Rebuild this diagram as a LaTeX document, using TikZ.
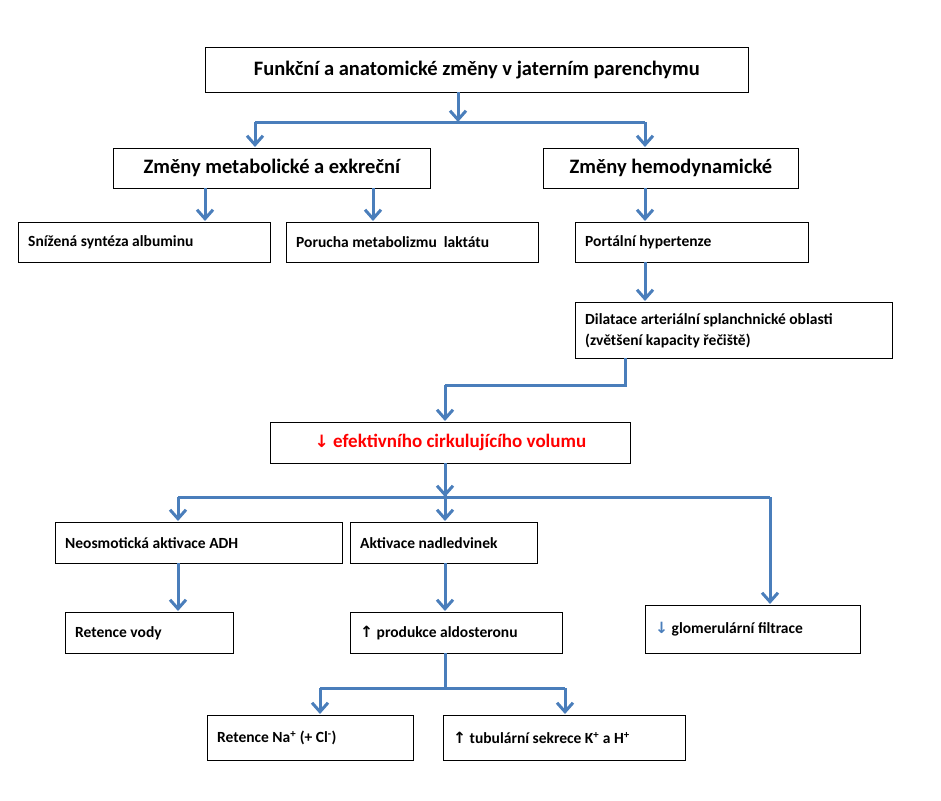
\documentclass[tikz,border=0pt]{standalone}
\usepackage{fontspec}
\setmainfont{Carlito}
\newfontfamily\djv{DejaVu Sans}
\usetikzlibrary{arrows.meta}
\definecolor{ab}{HTML}{4A7EBB}
\newcommand{\sm}{\fontsize{15.5}{19}\selectfont}
\newcommand{\bg}{\fontsize{20.5}{24}\selectfont}
\tikzset{
 bx/.style={draw,thick,anchor=north west,inner sep=0pt},
 ar/.style={draw=ab,line width=3pt,-{Straight Barb[length=9pt,width=16pt,line width=3pt]}},
 ln/.style={draw=ab,line width=3pt},
}
\newcommand{\bxn}[6]{\node[bx,minimum width=#3pt-#1pt,minimum height=#4pt-#2pt] (#5) at (#1,#2) {};
 \node[anchor=west,font=\bfseries\sm,align=left,inner sep=0pt] at ([xshift=10pt]#5.west) {#6};}
\begin{document}
\begin{tikzpicture}[x=1pt,y=-1pt]
\useasboundingbox (0,0) rectangle (941,800);
\node[bx,minimum width=543pt,minimum height=45pt] (top) at (205,47) {};
\node[font=\bfseries\bg] at (top.center) {Funkční a anatomické změny v jaterním parenchymu};
\node[bx,minimum width=317pt,minimum height=40pt] (met) at (113,148) {};
\node[font=\bfseries\bg] at (met.center) {Změny metabolické a exkreční};
\node[bx,minimum width=255pt,minimum height=40pt] (hem) at (543,148) {};
\node[font=\bfseries\bg] at (hem.center) {Změny hemodynamické};
\bxn{18}{222}{270}{262}{alb}{Snížená syntéza albuminu}
\bxn{286}{222}{538}{262}{lak}{Porucha metabolizmu\ \ laktátu}
\bxn{575}{222}{808}{262}{por}{Portální hypertenze}
\bxn{575}{302}{892}{358}{dil}{Dilatace arteriální splanchnické oblasti\\[2pt](zvětšení kapacity řečiště)}
\node[bx,minimum width=360pt,minimum height=41pt] (ef) at (270,422) {};
\node[font=\bfseries\fontsize{19}{22}\selectfont,text=red] at (ef.center) {{\djv\fontsize{17}{20}\selectfont ↓} efektivního cirkulujícího volumu};
\bxn{55}{522}{342}{563}{adh}{Neosmotická aktivace ADH}
\bxn{350}{522}{537}{563}{nad}{Aktivace nadledvinek}
\bxn{65}{612}{233}{653}{vod}{Retence vody}
\bxn{350}{612}{562}{653}{ald}{{\djv ↑} produkce aldosteronu}
\bxn{645}{605}{860}{653}{glo}{{\djv\color{ab}↓} glomerulární filtrace}
\bxn{207}{715}{413}{760}{na}{Retence Na\textsuperscript{+} (+ Cl\textsuperscript{-})}
\bxn{443}{715}{685}{760}{tub}{{\djv ↑} tubulární sekrece K\textsuperscript{+} a H\textsuperscript{+}}
\coordinate (j1) at (458,122);
\draw[ar] (458,92) -- (j1);
\draw[ln] (255,122) -- (645,122);
\draw[ar] (255,122) -- (255,147);
\draw[ar] (645,122) -- (645,147);
\draw[ar] (205,188) -- (205,221);
\draw[ar] (373,188) -- (373,221);
\draw[ar] (645,188) -- (645,221);
\draw[ar] (645,262) -- (645,301);
\draw[ln] (625,358) -- (625,385) -- (445,385);
\draw[ar] (445,385) -- (445,421);
\draw[ln] (445,463) -- (445,497);
\draw[ln] (178,497) -- (770,497);
\draw[ar] (445,480) -- (445,497);
\draw[ar] (178,497) -- (178,521);
\draw[ar] (445,497) -- (445,521);
\draw[ar] (770,497) -- (770,604);
\draw[ar] (178,563) -- (178,611);
\draw[ar] (445,563) -- (445,611);
\draw[ln] (445,653) -- (445,688);
\draw[ln] (320,688) -- (565,688);
\draw[ar] (320,688) -- (320,714);
\draw[ar] (565,688) -- (565,714);
\end{tikzpicture}
\end{document}
